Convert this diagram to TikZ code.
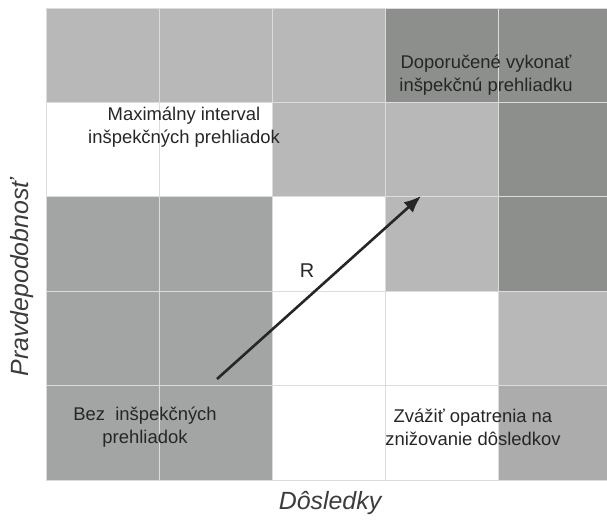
\documentclass[tikz,border=0pt]{standalone}
\usepackage{fontspec}
\setmainfont{Liberation Sans}
\usetikzlibrary{arrows.meta}

\definecolor{lightcell}{HTML}{B7B8B7}
\definecolor{midcell}{HTML}{A3A5A4}
\definecolor{darkcell}{HTML}{8D8F8D}
\definecolor{lowcell}{HTML}{ABACAB}
\definecolor{gridcol}{HTML}{DCDCDC}
\definecolor{inkcol}{HTML}{262626}

\begin{document}
\begin{tikzpicture}[x=1bp,y=-1bp,>={Latex[length=17bp,width=14bp]},semithick]
  \tikzstyle{gridline}=[draw=gridcol,line width=0.9bp]
  \tikzstyle{celltext}=[align=center,text=inkcol,font=\fontsize{18.5}{23}\selectfont]
  \tikzstyle{axistext}=[text=inkcol!90,font=\fontsize{25}{30}\selectfont\itshape]
  \tikzstyle{vector}=[->,draw=inkcol,line width=2.6bp]
  \useasboundingbox (0,0) rectangle (607,524);

  % risk matrix cells (row, column, shade)
  \begin{scope}
    \clip (0,0) rectangle (607,524);
    \foreach \r/\c/\shade in {0/0/lightcell,0/1/lightcell,0/2/lightcell,0/3/darkcell,0/4/darkcell,
                              1/2/lightcell,1/3/lightcell,1/4/darkcell,
                              2/0/midcell,2/1/midcell,2/3/lightcell,2/4/darkcell,
                              3/0/midcell,3/1/midcell,3/4/lightcell,
                              4/0/midcell,4/1/midcell,4/4/lowcell}
      \fill[\shade] (46+113*\c,8+94.4*\r) rectangle +(113,94.4);
    \foreach \c in {0,...,5}
      \draw[gridline] (46+113*\c,8) -- ++(0,472);
    \foreach \r in {0,...,5}
      \draw[gridline] (46,8+94.4*\r) -- ++(570,0);
  \end{scope}

  \node[celltext] (maxint) at (184,127) {Maximálny interval\\inšpekčných prehliadok};
  \node[celltext] (doporuc) at (486,75) {Doporučené vykonať\\inšpekčnú prehliadku};
  \node[celltext] (bezinsp) at (145,427) {Bez\ \ inšpekčných\\prehliadok};
  \node[celltext] (zvazit) at (473,427) {Zvážiť opatrenia na\\znižovanie dôsledkov};
  \node[celltext,font=\fontsize{20}{24}\selectfont] (rlab) at (307,271) {R};

  \coordinate (rtail) at (217,379);
  \coordinate (rhead) at (421,196);
  \draw[vector] (rtail) -- (rhead);

  \node[axistext,rotate=90] (pravd) at (22,278) {Pravdepodobnosť};
  \node[axistext] (dosl) at (330,503) {Dôsledky};
\end{tikzpicture}
\end{document}
